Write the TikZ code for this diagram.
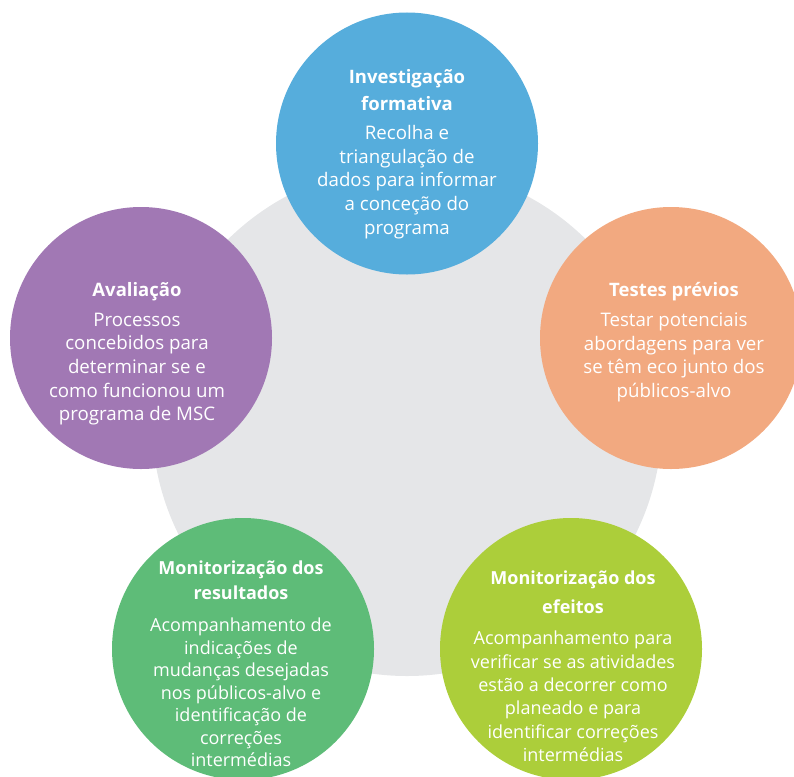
\documentclass[tikz,border=0pt]{standalone}
\usepackage{fontspec}
\setmainfont{Open Sans}
\definecolor{greyc}{HTML}{E5E6E8}
\definecolor{bluec}{HTML}{56ADDC}
\definecolor{orangec}{HTML}{F2A980}
\definecolor{purplec}{HTML}{A178B4}
\definecolor{dgreenc}{HTML}{5EBC78}
\definecolor{lgreenc}{HTML}{ACCE3A}
\tikzset{
  bubble/.style={circle, minimum size=262pt, inner sep=0pt, draw=none},
  head/.style={text=white, align=center, inner sep=0pt, font=\fontsize{18.5}{27}\selectfont\bfseries},
  body/.style={text=white, align=center, inner sep=0pt, font=\fontsize{18.7}{23.6}\selectfont},
}
\begin{document}
\begin{tikzpicture}[x=1pt,y=-1pt]
\useasboundingbox (0,0) rectangle (794,776);
\clip (0,0) rectangle (794,776);
\node[circle, minimum size=510pt, inner sep=0pt, fill=greyc] (hub) at (407,421) {};
\node[bubble, fill=bluec] (inv) at (407,143.5) {};
\node[bubble, fill=orangec] (tes) at (671,338) {};
\node[bubble, fill=purplec] (ava) at (141,338) {};
\node[bubble, fill=dgreenc] (mres) at (243,649) {};
\node[bubble, fill=lgreenc] (mefe) at (571,649) {};

\node[head] (invh) at (407,90.5) {Investigação\\formativa};
\node[body] (invb) at (407,182) {Recolha e\\triangulação de\\dados para informar\\a conceção do\\programa};

\node[head] (tesh) at (674,292) {Testes prévios};
\node[body] (tesb) at (674,357.5) {Testar potenciais\\abordagens para ver\\se têm eco junto dos\\públicos-alvo};

\node[head] (avah) at (137,292) {Avaliação};
\node[body] (avab) at (137,369) {Processos\\concebidos para\\determinar se e\\como funcionou um\\programa de MSC};

\node[head, font=\fontsize{18}{25}\selectfont\bfseries] (mresh) at (241,580.5) {Monitorização dos\\resultados};
\node[body, font=\fontsize{18}{22.5}\selectfont] (mresb) at (241,692.5) {Acompanhamento de\\indicações de\\mudanças desejadas\\nos públicos-alvo e\\identificação de\\correções\\intermédias};

\node[head, font=\fontsize{18}{29}\selectfont\bfseries] (mefeh) at (573,592.5) {Monitorização dos\\efeitos};
\node[body, font=\fontsize{18}{23.4}\selectfont] (mefeb) at (573,696.5) {Acompanhamento para\\verificar se as atividades\\estão a decorrer como\\planeado e para\\identificar correções\\intermédias};
\end{tikzpicture}
\end{document}
